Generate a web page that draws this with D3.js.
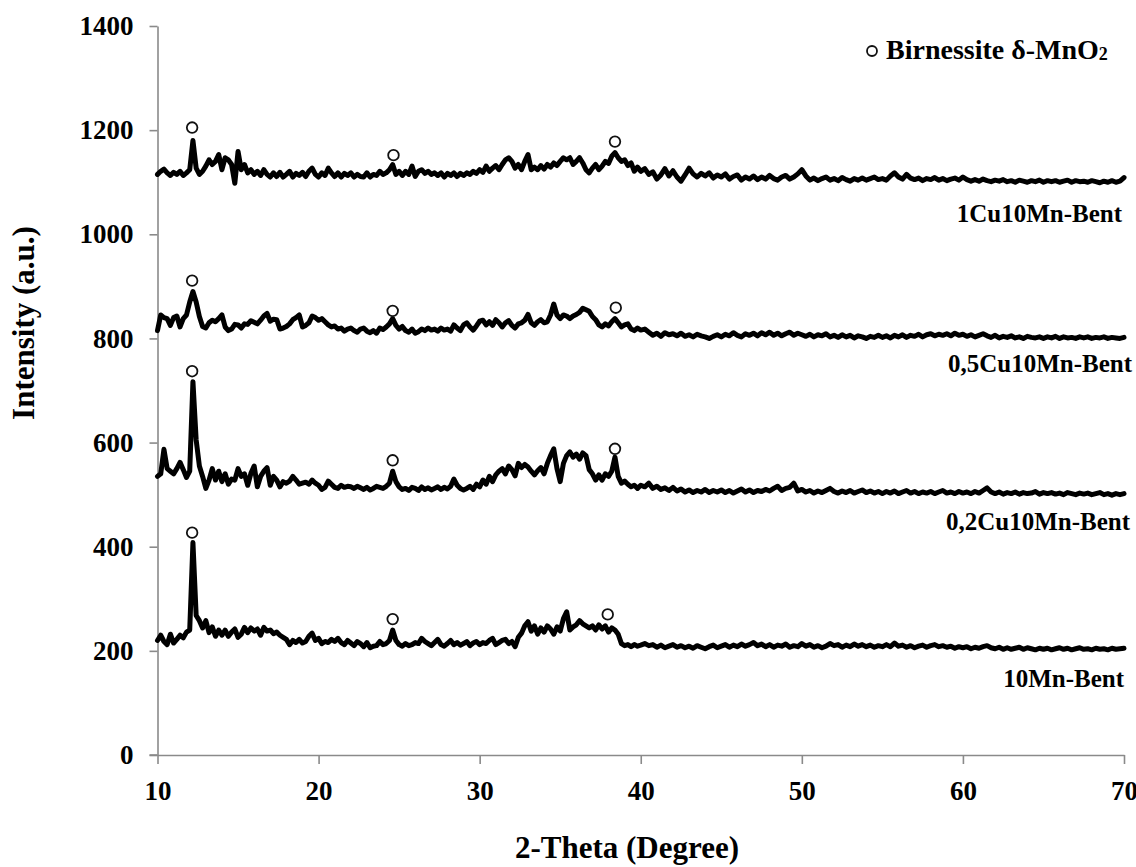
<!DOCTYPE html>
<html><head><meta charset="utf-8">
<script src="https://cdn.jsdelivr.net/npm/d3@7"></script>
<style>
body{margin:0;background:#fff}
svg text{font-family:"Liberation Serif","Times New Roman",serif;font-weight:bold;fill:#000}
</style>
</head><body>
<svg id="chart" width="1136" height="867"></svg>
<script>
// 2-theta sampling (degrees)
const theta = [10,10.2,10.4,10.6,10.8,11,11.2,11.4,11.6,11.8,12,12.2,12.4,12.6,12.8,13,13.2,13.4,13.6,13.8,14,14.2,14.4,14.6,14.8,15,15.2,15.4,15.6,15.8,16,16.2,16.4,16.6,16.8,17,17.2,17.4,17.6,17.8,18,18.2,18.4,18.6,18.8,19,19.2,19.4,19.6,19.8,20,20.2,20.4,20.6,20.8,21,21.2,21.4,21.6,21.8,22,22.2,22.4,22.6,22.8,23,23.2,23.4,23.6,23.8,24,24.2,24.4,24.6,24.8,25,25.2,25.4,25.6,25.8,26,26.2,26.4,26.6,26.8,27,27.2,27.4,27.6,27.8,28,28.2,28.4,28.6,28.8,29,29.2,29.4,29.6,29.8,30,30.2,30.4,30.6,30.8,31,31.2,31.4,31.6,31.8,32,32.2,32.4,32.6,32.8,33,33.2,33.4,33.6,33.8,34,34.2,34.4,34.6,34.8,35,35.2,35.4,35.6,35.8,36,36.2,36.4,36.6,36.8,37,37.2,37.4,37.6,37.8,38,38.2,38.4,38.6,38.8,39,39.2,39.4,39.6,39.8,40,
40.25,40.5,40.75,41,41.25,41.5,41.75,42,42.25,42.5,
42.75,43,43.25,43.5,43.75,44,44.25,44.5,44.75,45,
45.25,45.5,45.75,46,46.25,46.5,46.75,47,47.25,47.5,
47.75,48,48.25,48.5,48.75,49,49.25,49.5,49.75,50,
50.25,50.5,50.75,51,51.25,51.5,51.75,52,52.25,52.5,
52.75,53,53.25,53.5,53.75,54,54.25,54.5,54.75,55,
55.25,55.5,55.75,56,56.25,56.5,56.75,57,57.25,57.5,
57.75,58,58.25,58.5,58.75,59,59.25,59.5,59.75,60,
60.25,60.5,60.75,61,61.25,61.5,61.75,62,62.25,62.5,
62.75,63,63.25,63.5,63.75,64,64.25,64.5,64.75,65,
65.25,65.5,65.75,66,66.25,66.5,66.75,67,67.25,67.5,
67.75,68,68.25,68.5,68.75,69,69.25,69.5,69.75,70];

const int1Cu = [1115,1121,1125,1118,1113,1119,1115,1121,1113,1118,
1124,1180,1127,1115,1121,1131,1143,1134,1140,1153,
1124,1147,1143,1134,1098,1159,1124,1134,1118,1124,
1115,1121,1113,1124,1115,1110,1118,1111,1119,1110,
1115,1121,1110,1117,1113,1119,1111,1121,1127,1115,
1110,1118,1113,1127,1118,1111,1118,1110,1117,1113,
1118,1110,1115,1111,1110,1118,1110,1115,1113,1121,
1115,1118,1124,1134,1115,1121,1113,1121,1115,1131,
1111,1121,1124,1117,1121,1115,1118,1113,1118,1110,
1117,1113,1118,1111,1117,1113,1118,1115,1121,1117,
1124,1119,1131,1121,1127,1132,1124,1134,1143,1147,
1140,1127,1134,1124,1140,1153,1124,1129,1124,1132,
1125,1134,1129,1137,1132,1140,1147,1143,1147,1134,
1140,1147,1137,1124,1118,1127,1134,1124,1131,1140,
1136,1150,1157,1147,1140,1143,1132,1137,1121,1129,
1121,
1126,1115,1120,1106,1114,1126,1112,1122,1110,1102,
1114,1127,1116,1110,1117,1112,1118,1108,1114,1110,
1116,1106,1111,1114,1104,1110,1106,1112,1105,1110,
1106,1113,1107,1104,1110,1113,1106,1110,1116,1124,
1112,1104,1108,1103,1107,1110,1104,1107,1103,1109,
1105,1102,1107,1104,1108,1104,1107,1110,1105,1107,
1104,1112,1118,1110,1106,1115,1108,1105,1108,1103,
1107,1105,1109,1104,1107,1103,1106,1108,1104,1110,
1105,1102,1105,1102,1106,1103,1101,1104,1102,1105,
1101,1103,1100,1104,1102,1100,1103,1101,1104,1100,
1103,1101,1103,1100,1102,1104,1100,1103,1101,1102,
1100,1103,1101,1099,1102,1100,1103,1100,1102,1109];

const int05Cu = [815,845,840,838,825,840,843,822,838,845,
870,890,870,842,823,820,830,835,832,838,
845,822,815,818,827,826,820,828,827,834,
831,828,835,843,848,833,837,836,818,820,
823,828,836,840,845,822,825,830,843,840,
835,838,832,826,822,824,818,820,814,818,
820,815,812,818,820,814,811,815,810,820,
817,822,828,838,825,818,823,815,812,818,
810,813,818,815,820,816,818,814,820,816,
818,814,826,820,815,826,830,822,816,824,
833,835,826,832,825,836,830,822,830,834,
825,820,828,830,835,846,830,825,832,836,
830,832,845,866,845,838,845,843,838,843,
846,850,858,855,852,842,836,826,822,828,
824,832,838,830,822,826,828,818,815,820,
816,
818,812,806,810,804,811,807,809,805,810,
804,807,803,808,805,803,800,804,807,803,
808,805,811,806,803,809,806,810,805,811,
807,812,806,810,805,809,812,806,810,807,
804,808,803,807,805,809,803,806,802,807,
803,806,801,805,803,800,804,802,806,802,
805,801,806,803,807,802,806,804,808,803,
807,809,805,808,806,809,805,810,806,808,
804,807,803,806,809,805,802,806,801,804,
802,805,801,803,800,804,802,801,803,800,
803,801,804,800,803,801,802,800,803,801,
803,800,802,801,803,800,802,801,800,802];

const int02Cu = [535,540,587,550,545,540,550,562,548,533,
545,717,605,555,535,512,528,550,528,545,
525,540,520,530,528,550,535,540,518,541,
555,515,535,545,552,518,535,528,515,525,
522,526,535,528,520,522,524,520,528,522,
518,510,514,526,520,514,512,518,514,516,
515,512,516,513,510,514,509,512,516,514,
512,516,522,545,525,515,510,512,508,514,
512,508,515,510,513,509,512,515,510,514,
511,516,530,518,512,509,512,516,510,520,
515,528,520,535,525,538,545,550,540,555,
548,536,560,552,558,553,545,538,546,552,
540,560,575,588,550,525,560,575,582,572,
578,568,580,575,548,540,528,538,528,540,
535,545,572,535,522,526,520,515,518,512,
518,
515,522,512,516,510,513,508,514,507,511,
505,509,504,508,505,510,504,508,505,509,
504,508,503,507,511,505,509,504,508,506,
510,507,512,516,508,512,514,522,507,510,
505,508,503,507,504,508,512,506,503,507,
504,508,503,506,509,504,507,503,506,502,
506,503,507,502,505,508,503,506,502,505,
503,506,502,505,508,503,505,502,506,503,
505,502,506,503,508,513,505,502,505,501,
504,502,505,501,504,502,503,506,501,504,
502,504,501,503,500,504,502,500,503,501,
503,500,502,504,500,502,499,502,500,502];

const int10Mn = [220,230,218,212,232,215,222,230,225,236,
240,408,268,258,244,258,235,246,228,240,
230,240,228,236,242,226,232,245,235,244,
238,242,230,245,238,240,233,236,230,226,
222,212,220,216,222,215,218,228,234,220,
224,214,218,216,222,218,224,216,212,220,
215,210,218,214,208,216,206,209,210,218,
212,214,220,240,220,212,209,214,210,212,
216,214,224,218,214,210,216,222,212,209,
214,220,212,216,211,214,218,210,215,218,
212,216,214,220,224,212,216,220,222,214,
218,208,226,234,248,256,238,248,232,244,
236,248,242,232,246,238,262,275,240,246,
250,258,252,248,244,248,240,250,242,248,
236,244,240,232,214,210,212,208,212,209,
211,
214,210,212,207,211,206,209,212,207,210,
206,209,205,210,207,204,208,211,206,209,
212,207,211,208,213,209,212,216,210,213,
208,212,207,211,209,213,207,210,208,214,
209,212,207,210,206,209,214,210,212,207,
211,208,213,209,212,208,211,207,210,208,
212,208,215,209,211,207,210,206,209,211,
207,210,212,208,210,207,209,205,208,206,
208,204,207,205,208,210,206,204,207,203,
206,203,205,207,203,206,204,202,205,203,
205,202,204,206,203,205,202,204,206,203,
204,202,205,203,204,202,205,203,204,205];

const seriesNames = ["1Cu10Mn-Bent","0,5Cu10Mn-Bent","0,2Cu10Mn-Bent","10Mn-Bent"];

// Birnessite peak markers (open circles)
const markTheta1Cu = [12.15,24.65,38.4],  markInt1Cu = [1205,1152,1178];
const markTheta05Cu = [12.15,24.6,38.45], markInt05Cu = [911,853,859];
const markTheta02Cu = [12.15,24.6,38.4],  markInt02Cu = [737,566,588];
const markTheta10Mn = [12.15,24.6,37.95], markInt10Mn = [427,261,270];

const xTicks = [10,20,30,40,50,60,70];
const yTicks = [0,200,400,600,800,1000,1200,1400];
const legendLabel = "Birnessite δ-MnO";
const legendSub = "2";
const xTitle = "2-Theta (Degree)";
const yTitle = "Intensity (a.u.)";

const svg = d3.select("#chart");
const x = d3.scaleLinear().domain([10,70]).range([157.5,1124]);
const y = d3.scaleLinear().domain([0,1400]).range([755,26]);
const axisColor = "#8a8a8a";
const fmt = d3.format("d");

// axes
const gy = svg.append("g").attr("transform","translate(157.5,0)")
  .call(d3.axisLeft(y).tickValues(yTicks).tickFormat(fmt).tickSize(8).tickPadding(16).tickSizeOuter(0));
const gx = svg.append("g").attr("transform","translate(0,755)")
  .call(d3.axisBottom(x).tickValues(xTicks).tickFormat(fmt).tickSize(9).tickPadding(17).tickSizeOuter(0));
[gx,gy].forEach(g=>{
  g.select(".domain").attr("stroke",axisColor).attr("stroke-width",1.6);
  g.selectAll(".tick line").attr("stroke",axisColor).attr("stroke-width",1.6);
  g.selectAll(".tick text").attr("font-size",27).attr("fill","#000")
    .style("font-family",'"Liberation Serif","Times New Roman",serif').style("font-weight","bold");
});
svg.append("line").attr("x1",149.5).attr("x2",157.5).attr("y1",755).attr("y2",755)
  .attr("stroke",axisColor).attr("stroke-width",1.6);

// series
const series = [
  {name:seriesNames[0], vals:int1Cu,  mt:markTheta1Cu,  mi:markInt1Cu,  lx:1122, ly:222},
  {name:seriesNames[1], vals:int05Cu, mt:markTheta05Cu, mi:markInt05Cu, lx:1132, ly:372},
  {name:seriesNames[2], vals:int02Cu, mt:markTheta02Cu, mi:markInt02Cu, lx:1130, ly:530},
  {name:seriesNames[3], vals:int10Mn, mt:markTheta10Mn, mi:markInt10Mn, lx:1124, ly:687}
];
const line = d3.line().x((d,i)=>x(theta[i])).y(d=>y(d));
series.forEach(s=>{
  svg.append("path").attr("d",line(s.vals)).attr("fill","none")
    .attr("stroke","#000").attr("stroke-width",5)
    .attr("stroke-linejoin","round").attr("stroke-linecap","round");
});
series.forEach(s=>{
  svg.selectAll(null).data(s.mt).enter().append("circle")
    .attr("cx",d=>x(d)).attr("cy",(d,i)=>y(s.mi[i])).attr("r",5.3)
    .attr("fill","#fff").attr("stroke","#111").attr("stroke-width",1.8);
  svg.append("text").attr("x",s.lx).attr("y",s.ly).attr("text-anchor","end")
    .attr("font-size",25).text(s.name);
});

// legend
svg.append("circle").attr("cx",872).attr("cy",51).attr("r",5)
  .attr("fill","#fff").attr("stroke","#111").attr("stroke-width",1.8);
const lt = svg.append("text").attr("x",886).attr("y",59).attr("font-size",28);
lt.append("tspan").text(legendLabel);
lt.append("tspan").attr("font-size",18).attr("dy",1).text(legendSub);

// axis titles
svg.append("text").attr("x",627).attr("y",858).attr("text-anchor","middle")
  .attr("font-size",31).text(xTitle);
svg.append("text").attr("transform","translate(34,323) rotate(-90)")
  .attr("text-anchor","middle").attr("font-size",31).text(yTitle);
</script>
</body></html>
